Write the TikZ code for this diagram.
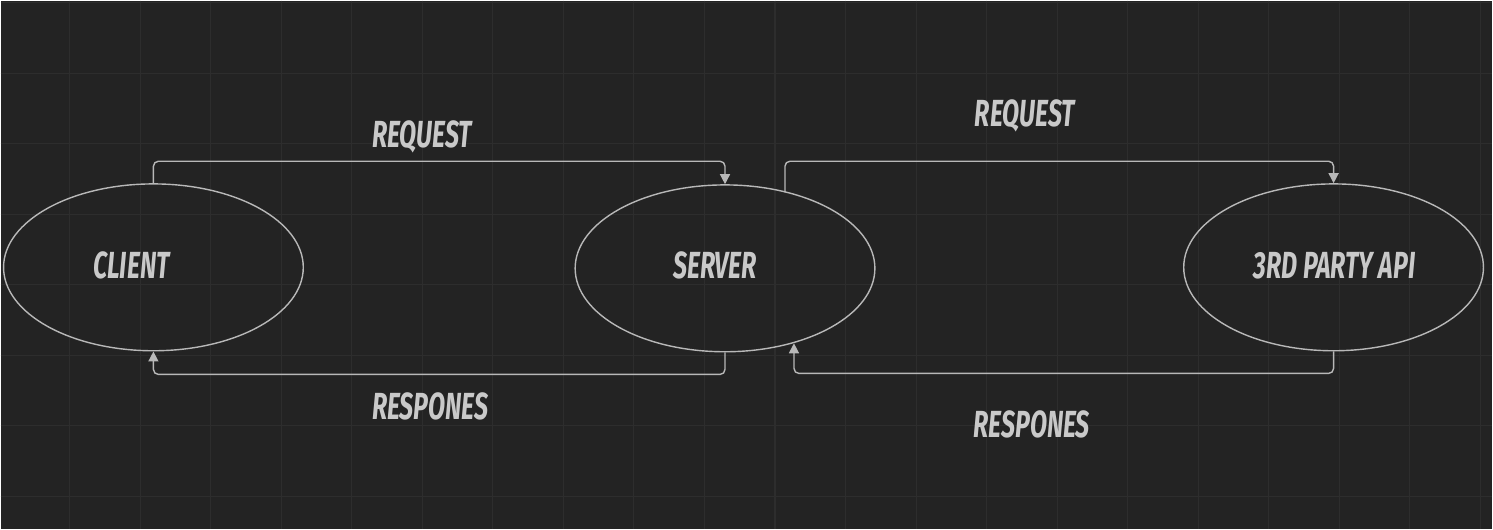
\documentclass[tikz,border=0pt]{standalone}
\usepackage{fontspec}
\newfontfamily\sketchfont{Fira Sans}[FakeStretch=0.66]
\usetikzlibrary{arrows.meta, positioning, shapes.geometric, calc}
\definecolor{canvas}{HTML}{232323}
\definecolor{gridline}{HTML}{2D2D2D}
\definecolor{ink}{HTML}{B8B8B8}
\definecolor{chalk}{HTML}{C9C9C9}

\begin{document}
\begin{tikzpicture}[
  x=0.02cm, y=-0.02cm,
  blob/.style={ellipse, draw=ink, line width=0.8pt, minimum width=6cm, minimum height=3.34cm, inner sep=0pt},
  arr/.style={-{Triangle[length=2mm,width=2mm]}, draw=ink, line width=0.8pt, rounded corners=0.1cm},
  lbl/.style={anchor=base, inner sep=0pt, text=chalk, font=\sketchfont\bfseries\itshape\fontsize{21.5}{24}\selectfont}
]
% canvas and grid
\fill[canvas] (0,0) rectangle (1493,529);
\foreach \gx in {0,...,20}
  \draw[gridline, line width=0.6pt] ({69+70.6*\gx},0) -- ({69+70.6*\gx},529);
\foreach \gy in {0,...,7}
  \draw[gridline, line width=0.6pt] (0,{2+70.6*\gy}) -- (1493,{2+70.6*\gy});

% the three parties
\node[blob] (client) at (153,267) {};
\node[blob] (server) at (725,268) {};
\node[blob] (api)    at (1334,267) {};
\node[lbl] (client-txt) at (131,278) {CLIENT};
\node[lbl] (server-txt) at (715,278) {SERVER};
\node[lbl] (api-txt)    at (1335,278) {3RD PARTY API};

% where the second pair leaves / meets the server
\coordinate (srv-out) at ($(server.center)+(60,-76)$);
\coordinate (srv-in)  at ($(server.center)+(69,75)$);

% client <-> server
\draw[arr] (client.north) -- ++(0,-22) -| (server.north);
\draw[arr] (server.south) -- ++(0,22) -| (client.south);
\node[lbl] (req1) at (422,147) {REQUEST};
\node[lbl] (res1) at (430,419) {RESPONES};

% server <-> 3rd party
\draw[arr] (srv-out) |- ($(api.north)+(0,-22)$) -- (api.north);
\draw[arr] (api.south) -- ++(0,22) -| (srv-in);
\node[lbl] (req2) at (1025,126) {REQUEST};
\node[lbl] (res2) at (1032,437) {RESPONES};
\end{tikzpicture}
\end{document}
